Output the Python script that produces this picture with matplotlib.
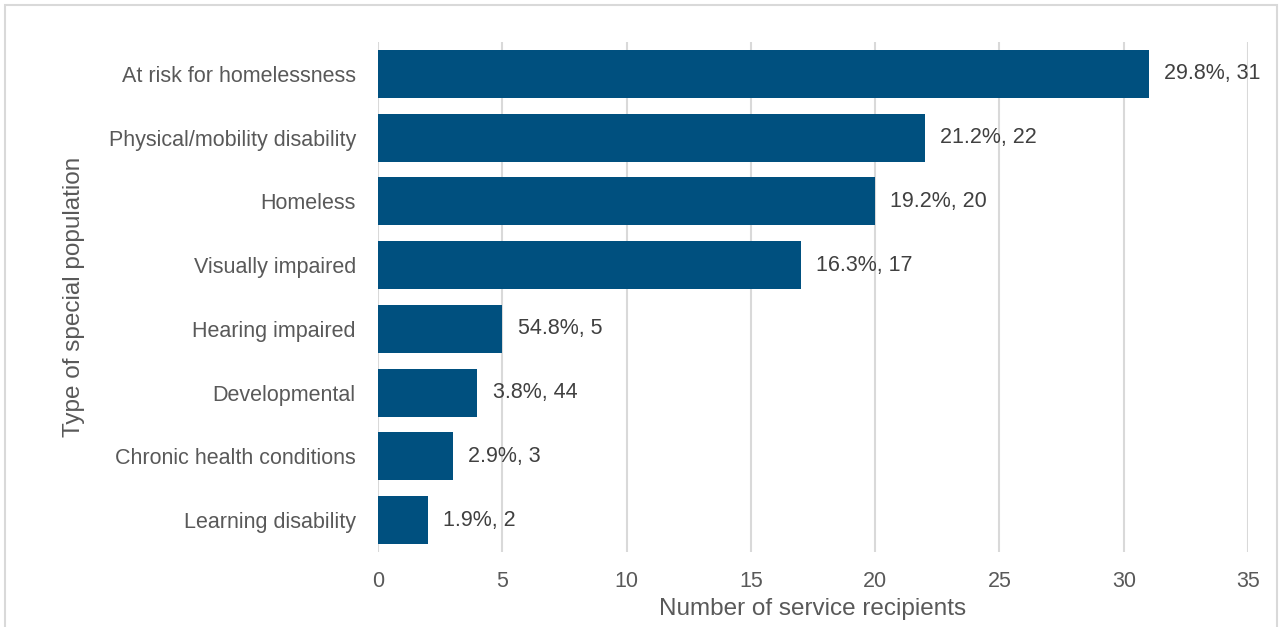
import matplotlib

matplotlib.use("Agg")
import matplotlib.pyplot as plt
from matplotlib.patches import Rectangle

# data, top to bottom as in the chart
categories = [
    "At risk for homelessness",
    "Physical/mobility disability",
    "Homeless",
    "Visually impaired",
    "Hearing impaired",
    "Developmental",
    "Chronic health conditions",
    "Learning disability",
]
counts = [31, 22, 20, 17, 5, 4, 3, 2]
bar_labels = ["29.8%, 31", "21.2%, 22", "19.2%, 20", "16.3%, 17",
              "54.8%, 5", "3.8%, 44", "2.9%, 3", "1.9%, 2"]
xticks = [0, 5, 10, 15, 20, 25, 30, 35]

BAR = "#00507F"
GRID = "#D9D9D9"
TICK = "#595959"
LABEL = "#404040"

plt.rcParams["font.family"] = ["Liberation Sans", "DejaVu Sans"]

fig = plt.figure(figsize=(12.82, 6.27), dpi=100)
ax = fig.add_axes([0.2949, 0.1196, 0.6786, 0.8134])

y = list(range(len(categories)))
ax.barh(y, counts, height=0.75, color=BAR, zorder=3)
for yi, v, lab in zip(y, counts, bar_labels):
    ax.annotate(lab, (v, yi), xytext=(11, 0), textcoords="offset points",
                va="center", ha="left", fontsize=15.5, color=LABEL)

ax.set_ylim(len(categories) - 0.5, -0.5)
ax.set_xlim(0, 35)
ax.set_xticks(xticks)
ax.set_yticks(y)
ax.set_yticklabels(categories)
ax.tick_params(axis="both", length=0, labelsize=15.5, labelcolor=TICK)
ax.tick_params(axis="x", pad=14)
ax.tick_params(axis="y", pad=16)
ax.xaxis.grid(True, color=GRID, lw=1.5, zorder=0)
for s in ax.spines.values():
    s.set_visible(False)

ax.set_xlabel("Number of service recipients", fontsize=17.5, color=TICK, labelpad=4)
ax.set_ylabel("Type of special population", fontsize=17.5, color=TICK, labelpad=17)

# outer chart frame
fig.patches.append(Rectangle((5 / 1282, -0.01), 1272 / 1282, 1.0 - 5 / 627 + 0.01,
                             transform=fig.transFigure, fill=False,
                             edgecolor="#D9D9D9", lw=1.5))

fig.savefig("out.png", dpi=100)
